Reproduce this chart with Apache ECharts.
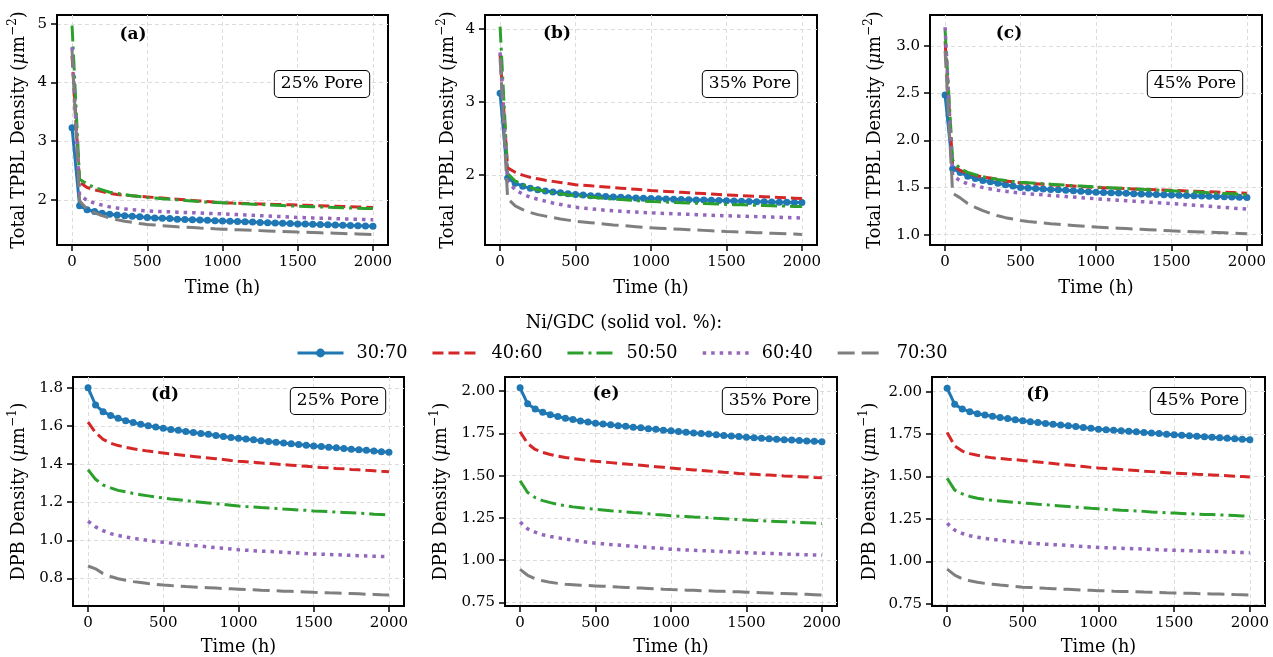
<!DOCTYPE html>
<html><head><meta charset="utf-8">
<script src="https://cdn.jsdelivr.net/npm/echarts@6/dist/echarts.min.js"></script>
<style>html,body{margin:0;padding:0;background:#fff}#c{width:1273px;height:657px}</style>
</head><body><div id="c"></div>
<script>
// ---------------- DATA ----------------
const times = [0,50,100,150,200,250,300,350,400,450,500,550,600,650,700,750,800,850,900,950,1000,1050,1100,1150,1200,1250,1300,1350,1400,1450,1500,1550,1600,1650,1700,1750,1800,1850,1900,1950,2000];
const seriesNames = ['30:70','40:60','50:50','60:40','70:30'];
const xTicks = [0,500,1000,1500,2000];
const yTicksA = [2,3,4,5];
const yTicksB = [2,3,4];
const yTicksC = [1.0,1.5,2.0,2.5,3.0];
const yTicksD = [0.8,1.0,1.2,1.4,1.6,1.8];
const yTicksE = [0.75,1.0,1.25,1.5,1.75,2.0];
const yTicksF = [0.75,1.0,1.25,1.5,1.75,2.0];

// (a) TPBL 25% pore
const a_30_70 = [3.23,1.90,1.83,1.80,1.77,1.755,1.74,1.73,1.72,1.71,1.70,1.69,1.685,1.68,1.67,1.665,1.66,1.655,1.65,1.645,1.64,1.635,1.63,1.625,1.62,1.615,1.61,1.605,1.60,1.595,1.59,1.586,1.582,1.578,1.574,1.57,1.566,1.562,1.558,1.554,1.55];
const a_40_60 = [4.45,2.30,2.21,2.17,2.14,2.11,2.09,2.08,2.07,2.06,2.05,2.04,2.03,2.02,2.01,2.00,1.99,1.98,1.97,1.96,1.95,1.946,1.942,1.938,1.934,1.93,1.926,1.922,1.918,1.914,1.91,1.906,1.902,1.898,1.894,1.89,1.886,1.882,1.878,1.874,1.87];
const a_50_50 = [4.97,2.35,2.27,2.21,2.17,2.13,2.11,2.09,2.07,2.055,2.04,2.03,2.02,2.01,2.00,1.99,1.98,1.97,1.96,1.955,1.95,1.944,1.938,1.932,1.926,1.92,1.914,1.908,1.902,1.896,1.89,1.886,1.882,1.878,1.874,1.87,1.866,1.862,1.858,1.854,1.85];
const a_60_40 = [4.60,2.08,1.99,1.94,1.91,1.88,1.86,1.845,1.83,1.82,1.81,1.805,1.80,1.795,1.79,1.785,1.78,1.775,1.77,1.765,1.76,1.754,1.748,1.742,1.736,1.73,1.724,1.718,1.712,1.706,1.70,1.696,1.692,1.688,1.684,1.68,1.676,1.672,1.668,1.664,1.66];
const a_70_30 = [4.55,1.98,1.84,1.78,1.73,1.69,1.66,1.635,1.615,1.595,1.58,1.57,1.56,1.55,1.54,1.535,1.53,1.52,1.515,1.505,1.50,1.495,1.49,1.485,1.48,1.475,1.47,1.465,1.46,1.455,1.45,1.446,1.442,1.438,1.434,1.43,1.426,1.422,1.418,1.414,1.41];
// (b) TPBL 35% pore
const b_30_70 = [3.12,1.96,1.89,1.85,1.82,1.80,1.785,1.77,1.76,1.745,1.735,1.728,1.72,1.714,1.708,1.702,1.697,1.692,1.688,1.684,1.68,1.677,1.674,1.671,1.668,1.665,1.662,1.659,1.656,1.653,1.65,1.647,1.644,1.641,1.638,1.635,1.633,1.631,1.629,1.627,1.625];
const b_40_60 = [3.65,2.10,2.04,2.00,1.97,1.95,1.93,1.915,1.90,1.885,1.87,1.862,1.854,1.846,1.838,1.83,1.822,1.814,1.806,1.798,1.79,1.784,1.778,1.772,1.766,1.76,1.754,1.748,1.742,1.736,1.73,1.725,1.72,1.715,1.71,1.705,1.70,1.695,1.69,1.685,1.68];
const b_50_50 = [4.03,2.02,1.92,1.87,1.83,1.80,1.78,1.76,1.745,1.73,1.72,1.71,1.70,1.69,1.68,1.673,1.666,1.659,1.652,1.646,1.64,1.636,1.632,1.628,1.624,1.62,1.616,1.612,1.608,1.604,1.60,1.597,1.594,1.591,1.588,1.585,1.582,1.579,1.576,1.573,1.57];
const b_60_40 = [3.68,1.92,1.80,1.74,1.70,1.67,1.645,1.62,1.60,1.58,1.56,1.55,1.54,1.53,1.52,1.513,1.506,1.50,1.495,1.49,1.485,1.48,1.476,1.472,1.468,1.464,1.46,1.456,1.452,1.448,1.445,1.442,1.439,1.436,1.433,1.43,1.427,1.424,1.421,1.418,1.415];
const b_70_30 = [3.60,1.68,1.58,1.53,1.49,1.46,1.44,1.42,1.40,1.385,1.37,1.36,1.35,1.34,1.33,1.32,1.312,1.304,1.296,1.288,1.28,1.275,1.27,1.265,1.26,1.255,1.25,1.245,1.24,1.235,1.23,1.226,1.222,1.218,1.214,1.21,1.206,1.202,1.198,1.194,1.19];
// (c) TPBL 45% pore
const c_30_70 = [2.48,1.70,1.66,1.62,1.595,1.575,1.56,1.545,1.53,1.515,1.50,1.495,1.49,1.485,1.48,1.475,1.47,1.465,1.46,1.455,1.45,1.447,1.444,1.441,1.438,1.435,1.432,1.429,1.426,1.423,1.42,1.417,1.415,1.412,1.41,1.407,1.405,1.402,1.40,1.397,1.395];
const c_40_60 = [3.05,1.74,1.68,1.65,1.63,1.61,1.60,1.585,1.57,1.56,1.55,1.545,1.54,1.535,1.53,1.525,1.52,1.515,1.51,1.505,1.50,1.497,1.494,1.491,1.488,1.485,1.482,1.479,1.476,1.473,1.47,1.467,1.464,1.461,1.458,1.455,1.452,1.449,1.446,1.443,1.44];
const c_50_50 = [3.17,1.79,1.70,1.66,1.635,1.615,1.60,1.585,1.575,1.565,1.555,1.55,1.545,1.54,1.535,1.53,1.525,1.52,1.515,1.51,1.505,1.501,1.497,1.493,1.489,1.485,1.481,1.477,1.473,1.469,1.465,1.461,1.457,1.453,1.449,1.445,1.441,1.437,1.433,1.429,1.425];
const c_60_40 = [3.20,1.63,1.57,1.54,1.52,1.50,1.485,1.47,1.46,1.45,1.44,1.434,1.428,1.422,1.416,1.41,1.404,1.398,1.392,1.386,1.38,1.375,1.37,1.365,1.36,1.355,1.35,1.345,1.34,1.335,1.33,1.324,1.318,1.312,1.306,1.30,1.294,1.288,1.282,1.276,1.27];
const c_70_30 = [2.95,1.44,1.39,1.33,1.29,1.255,1.225,1.20,1.18,1.165,1.15,1.14,1.132,1.124,1.116,1.11,1.104,1.098,1.092,1.086,1.08,1.076,1.072,1.068,1.064,1.06,1.056,1.052,1.048,1.044,1.04,1.037,1.034,1.031,1.028,1.025,1.022,1.019,1.016,1.013,1.01];
// (d) DPB 25% pore
const d_30_70 = [1.80,1.71,1.675,1.655,1.64,1.628,1.618,1.609,1.601,1.594,1.588,1.582,1.577,1.571,1.566,1.561,1.556,1.550,1.545,1.540,1.535,1.531,1.527,1.523,1.519,1.515,1.511,1.507,1.503,1.499,1.495,1.492,1.488,1.485,1.482,1.478,1.475,1.472,1.468,1.465,1.462];
const d_40_60 = [1.62,1.565,1.53,1.51,1.497,1.488,1.48,1.474,1.468,1.463,1.458,1.453,1.449,1.444,1.44,1.436,1.432,1.428,1.424,1.419,1.415,1.412,1.409,1.406,1.403,1.40,1.397,1.394,1.391,1.388,1.385,1.382,1.38,1.377,1.375,1.372,1.37,1.367,1.365,1.362,1.36];
const d_50_50 = [1.37,1.32,1.29,1.275,1.262,1.254,1.246,1.239,1.233,1.227,1.222,1.217,1.213,1.208,1.204,1.2,1.196,1.192,1.188,1.184,1.18,1.177,1.175,1.172,1.17,1.167,1.164,1.162,1.159,1.157,1.154,1.152,1.15,1.148,1.146,1.144,1.142,1.14,1.137,1.135,1.133];
const d_60_40 = [1.10,1.07,1.05,1.035,1.025,1.017,1.01,1.005,0.999,0.994,0.99,0.985,0.981,0.977,0.973,0.969,0.965,0.961,0.958,0.954,0.95,0.948,0.945,0.943,0.941,0.939,0.937,0.935,0.933,0.93,0.928,0.927,0.925,0.924,0.922,0.921,0.919,0.918,0.916,0.915,0.913];
const d_70_30 = [0.865,0.85,0.825,0.81,0.798,0.79,0.783,0.778,0.773,0.769,0.765,0.762,0.76,0.757,0.755,0.753,0.751,0.749,0.747,0.745,0.743,0.741,0.74,0.738,0.737,0.735,0.733,0.732,0.73,0.729,0.727,0.726,0.724,0.723,0.721,0.72,0.719,0.717,0.716,0.714,0.713];
// (e) DPB 35% pore
const e_30_70 = [2.02,1.925,1.895,1.875,1.86,1.85,1.84,1.832,1.824,1.817,1.81,1.805,1.801,1.796,1.792,1.787,1.783,1.778,1.774,1.769,1.765,1.761,1.757,1.753,1.75,1.746,1.742,1.738,1.734,1.731,1.727,1.724,1.722,1.719,1.716,1.713,1.711,1.708,1.705,1.703,1.70];
const e_40_60 = [1.76,1.69,1.655,1.637,1.625,1.615,1.607,1.601,1.595,1.59,1.585,1.581,1.577,1.573,1.569,1.565,1.561,1.557,1.553,1.549,1.545,1.541,1.538,1.534,1.531,1.527,1.524,1.52,1.517,1.513,1.51,1.508,1.505,1.503,1.501,1.498,1.496,1.494,1.492,1.489,1.487];
const e_50_50 = [1.47,1.40,1.37,1.352,1.34,1.33,1.322,1.315,1.31,1.305,1.30,1.296,1.292,1.289,1.285,1.281,1.278,1.274,1.27,1.267,1.263,1.26,1.258,1.255,1.253,1.25,1.247,1.245,1.242,1.24,1.237,1.235,1.233,1.231,1.229,1.227,1.225,1.223,1.221,1.219,1.217];
const e_60_40 = [1.225,1.185,1.165,1.15,1.14,1.132,1.125,1.118,1.111,1.105,1.10,1.096,1.092,1.089,1.085,1.082,1.078,1.075,1.071,1.068,1.064,1.062,1.06,1.058,1.056,1.054,1.052,1.05,1.048,1.046,1.044,1.042,1.041,1.039,1.038,1.036,1.034,1.033,1.031,1.03,1.028];
const e_70_30 = [0.945,0.91,0.89,0.877,0.868,0.862,0.857,0.854,0.851,0.849,0.847,0.845,0.843,0.84,0.838,0.836,0.834,0.832,0.83,0.827,0.825,0.824,0.822,0.821,0.819,0.818,0.816,0.815,0.813,0.812,0.81,0.808,0.807,0.805,0.803,0.802,0.8,0.798,0.797,0.795,0.793];
// (f) DPB 45% pore
const f_30_70 = [2.02,1.925,1.898,1.882,1.87,1.862,1.855,1.848,1.841,1.834,1.828,1.823,1.818,1.813,1.808,1.804,1.799,1.794,1.789,1.784,1.779,1.776,1.772,1.769,1.766,1.763,1.759,1.756,1.753,1.749,1.746,1.743,1.74,1.737,1.734,1.732,1.729,1.726,1.723,1.72,1.717];
const f_40_60 = [1.76,1.68,1.65,1.635,1.625,1.617,1.61,1.606,1.602,1.599,1.595,1.59,1.586,1.581,1.577,1.572,1.568,1.563,1.559,1.554,1.55,1.547,1.544,1.541,1.538,1.535,1.532,1.529,1.526,1.523,1.52,1.518,1.516,1.513,1.511,1.509,1.507,1.505,1.502,1.5,1.498];
const f_50_50 = [1.49,1.42,1.398,1.383,1.372,1.365,1.36,1.356,1.352,1.348,1.344,1.341,1.337,1.334,1.33,1.327,1.324,1.32,1.317,1.313,1.31,1.307,1.305,1.302,1.3,1.297,1.295,1.292,1.29,1.287,1.285,1.283,1.281,1.279,1.277,1.276,1.274,1.272,1.27,1.268,1.266];
const f_60_40 = [1.225,1.185,1.165,1.152,1.143,1.136,1.13,1.125,1.12,1.115,1.111,1.108,1.105,1.102,1.099,1.097,1.094,1.091,1.088,1.086,1.083,1.081,1.08,1.078,1.076,1.075,1.073,1.071,1.069,1.068,1.066,1.065,1.063,1.062,1.06,1.059,1.058,1.056,1.055,1.053,1.052];
const f_70_30 = [0.955,0.92,0.898,0.887,0.878,0.871,0.866,0.861,0.857,0.853,0.849,0.847,0.845,0.842,0.84,0.838,0.836,0.834,0.832,0.83,0.828,0.827,0.825,0.824,0.823,0.822,0.82,0.819,0.818,0.816,0.815,0.814,0.813,0.811,0.81,0.809,0.808,0.807,0.805,0.804,0.803];

// ---------------- LAYOUT / STYLE ----------------
const FONT = '"DejaVu Serif", "Liberation Serif", serif';
const NAME_FS = 17.7;
const TICK_FS = 15;
const panels = [
  {vals:[a_30_70,a_40_60,a_50_50,a_60_40,a_70_30], ticks:yTicksA, dec:0, min:1.23, max:5.15, grid:{left:57,top:15,width:331,height:230}, nameGap:26, yname:'Total TPBL Density ({i|μ}m{s|−2})', tag:'(a)', tagPos:[133,35], pore:'25% Pore', porePos:[322,84]},
  {vals:[b_30_70,b_40_60,b_50_50,b_60_40,b_70_30], ticks:yTicksB, dec:0, min:1.045, max:4.19, grid:{left:485,top:15,width:332,height:230}, nameGap:25, yname:'Total TPBL Density ({i|μ}m{s|−2})', tag:'(b)', tagPos:[557,34], pore:'35% Pore', porePos:[750,84]},
  {vals:[c_30_70,c_40_60,c_50_50,c_60_40,c_70_30], ticks:yTicksC, dec:1, min:0.89, max:3.33, grid:{left:930,top:15,width:332,height:230}, nameGap:43, yname:'Total TPBL Density ({i|μ}m{s|−2})', tag:'(c)', tagPos:[1009,34], pore:'45% Pore', porePos:[1195,84]},
  {vals:[d_30_70,d_40_60,d_50_50,d_60_40,d_70_30], ticks:yTicksD, dec:1, min:0.655, max:1.857, grid:{left:73,top:377,width:331,height:230}, nameGap:42, yname:'DPB Density ({i|μ}m{s|−1})', tag:'(d)', tagPos:[165,395], pore:'25% Pore', porePos:[338,401]},
  {vals:[e_30_70,e_40_60,e_50_50,e_60_40,e_70_30], ticks:yTicksE, dec:2, min:0.728, max:2.084, grid:{left:505,top:377,width:332,height:230}, nameGap:52, yname:'DPB Density ({i|μ}m{s|−1})', tag:'(e)', tagPos:[606,394], pore:'35% Pore', porePos:[770,401]},
  {vals:[f_30_70,f_40_60,f_50_50,f_60_40,f_70_30], ticks:yTicksF, dec:2, min:0.738, max:2.086, grid:{left:932,top:377,width:333,height:230}, nameGap:50, yname:'DPB Density ({i|μ}m{s|−1})', tag:'(f)', tagPos:[1038,395], pore:'45% Pore', porePos:[1198,401]}
];
const styles = [
  {color:'#1f77b4', type:'solid', width:3, symbol:'circle', size:7},
  {color:'#d62728', type:[11,5], width:3, symbol:'none', size:0},
  {color:'#2ca02c', type:[16,5,3,5], width:3, symbol:'none', size:0},
  {color:'#9467bd', type:[3.5,5], width:3.5, symbol:'none', size:0},
  {color:'#7f7f7f', type:[17,7], width:3, symbol:'none', size:0}
];

const grids=[], xAxes=[], yAxes=[], series=[], graphics=[];
panels.forEach((p,i)=>{
  grids.push(Object.assign({show:true, borderColor:'#000', borderWidth:2, backgroundColor:'transparent'}, p.grid));
  xAxes.push({type:'value', gridIndex:i, min:-100, max:2100,
    name:'Time (h)', nameLocation:'middle', nameGap:(i<3?34:32),
    nameTextStyle:{fontFamily:FONT, fontSize:NAME_FS, color:'#000'},
    axisLine:{show:true, onZero:false, lineStyle:{color:'#000', width:2}},
    axisTick:{show:true, inside:false, length:6, lineStyle:{color:'#000', width:1.5}, customValues:xTicks},
    axisLabel:{show:true, margin:10, fontFamily:FONT, fontSize:TICK_FS, color:'#000', customValues:xTicks, formatter:v=>String(v)},
    splitLine:{show:true, lineStyle:{color:'#dcdcdc', type:[4,3], width:1}}
  });
  yAxes.push({type:'value', gridIndex:i, min:p.min, max:p.max,
    name:p.yname, nameLocation:'middle', nameGap:p.nameGap, nameRotate:90,
    nameTextStyle:{fontFamily:FONT, fontSize:NAME_FS, color:'#000', lineHeight:24,
      rich:{i:{fontFamily:FONT, fontSize:NAME_FS, fontStyle:'italic', color:'#000', lineHeight:24},
            s:{fontFamily:FONT, fontSize:12, color:'#000', verticalAlign:'top', lineHeight:24}}},
    axisLine:{show:true, onZero:false, lineStyle:{color:'#000', width:2}},
    axisTick:{show:true, inside:false, length:6, lineStyle:{color:'#000', width:1.5}, customValues:p.ticks},
    axisLabel:{show:true, margin:10, fontFamily:FONT, fontSize:TICK_FS, color:'#000', customValues:p.ticks, formatter:v=>Number(v).toFixed(p.dec)},
    splitLine:{show:true, lineStyle:{color:'#dcdcdc', type:[4,3], width:1}}
  });
  p.vals.forEach((vals,k)=>{
    const s = styles[k];
    series.push({type:'line', name:seriesNames[k], xAxisIndex:i, yAxisIndex:i,
      data: times.map((t,j)=>[t, vals[j]]),
      symbol:s.symbol, symbolSize:s.size, showSymbol:s.symbol!=='none', showAllSymbol:true,
      lineStyle:{color:s.color, width:s.width, type:s.type, cap:'butt'},
      itemStyle:{color:s.color, borderWidth:0},
      z: 2 + k, silent:true, animation:false, clip:true
    });
  });
  graphics.push({type:'text', x:p.tagPos[0], y:p.tagPos[1], z:100,
    style:{text:p.tag, fontFamily:FONT, fontSize:17, fontWeight:'bold', fill:'#000', align:'center', verticalAlign:'middle', textAlign:'center', textVerticalAlign:'middle'}});
  graphics.push({type:'text', x:p.porePos[0], y:p.porePos[1], z:100,
    style:{text:p.pore, fontFamily:FONT, fontSize:17, fill:'#000', align:'center', verticalAlign:'middle', textAlign:'center', textVerticalAlign:'middle',
      backgroundColor:'#fff', borderColor:'#000', borderWidth:1, borderRadius:4, padding:[5,6,4,6]}});
});

const legendData = seriesNames.map((n,k)=>{
  const s = styles[k];
  return {name:n,
    itemStyle: k===0 ? {color:s.color, borderWidth:0} : {color:s.color, opacity:0, borderWidth:0},
    lineStyle:{color:s.color, width:s.width, type:s.type, cap:'butt', opacity:1}};
});

const chart = echarts.init(document.getElementById('c'), null, {renderer:'canvas'});
chart.setOption({
  backgroundColor:'#fff',
  animation:false,
  title:{text:'Ni/GDC (solid vol. %):', left:619, top:309, textAlign:'center',
    textStyle:{fontFamily:FONT, fontSize:NAME_FS, fontWeight:'normal', color:'#000'}},
  legend:{data:legendData, left:291, top:339, itemWidth:46, itemHeight:11, itemGap:23.5,
    formatter:'{t|{name}}',
    textStyle:{fontFamily:FONT, fontSize:NAME_FS, color:'#000', rich:{t:{fontFamily:FONT, fontSize:NAME_FS, color:'#000', padding:[0,0,0,8]}}},
    selectedMode:false},
  grid:grids, xAxis:xAxes, yAxis:yAxes, series:series, graphic:graphics
});
</script></body></html>
